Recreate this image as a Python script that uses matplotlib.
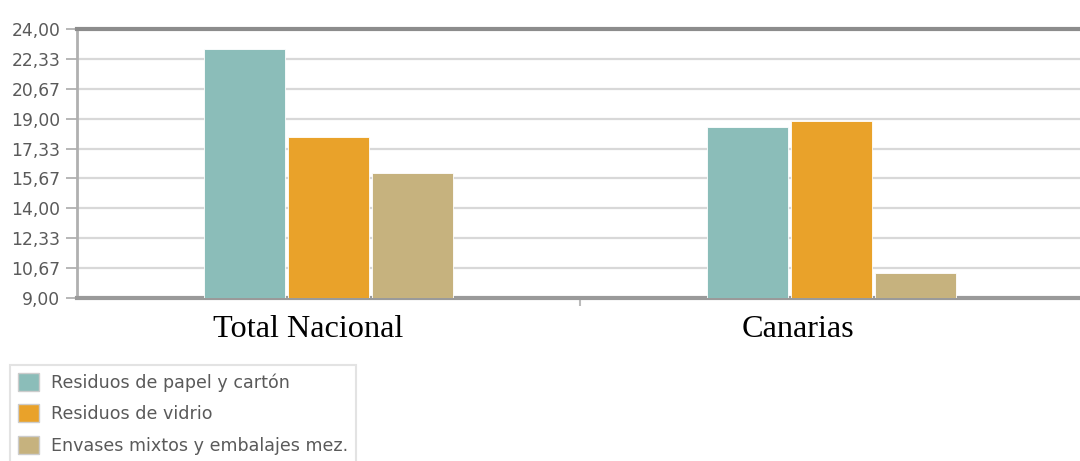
import numpy as np
import matplotlib
matplotlib.use("Agg")
import matplotlib.pyplot as plt
from matplotlib.patches import Patch

# data
regions = ["Total Nacional", "Canarias"]
series = ["Residuos de papel y cartón", "Residuos de vidrio",
          "Envases mixtos y embalajes mez."]
papel = [22.89, 18.54]
vidrio = [17.98, 18.87]
envases = [15.97, 10.39]
colors = ["#8bbdb9", "#e9a22a", "#c6b27e"]

y_ticks = np.linspace(9, 24, 10)
y_labels = [f"{v:.2f}".replace(".", ",") for v in y_ticks]

fig = plt.figure(figsize=(10.8, 4.61), dpi=100)
# axes runs slightly past the right edge like the screenshot
ax = fig.add_axes([77 / 1080, 1 - 298 / 461, 1006 / 1080, 269 / 461])

x = np.arange(len(regions))
width = 0.163
offset = 0.167
for i, (vals, c) in enumerate(zip([papel, vidrio, envases], colors)):
    ax.bar(x + (i - 1) * offset, np.array(vals) - 9, width, bottom=9,
           color=c, edgecolor="white", linewidth=0.6, zorder=3)

ax.set_xlim(-0.5, 1.5)
ax.set_ylim(9, 24)
ax.set_yticks(y_ticks)
ax.set_yticklabels(y_labels, fontsize=12.3, color="#5a5a5a", family="DejaVu Sans")
ax.set_xticks([0.5], minor=True)
ax.set_xticks(x)
ax.set_xticklabels([])
ax.tick_params(axis="x", which="major", length=0)
ax.tick_params(axis="x", which="minor", length=6, color="#bbbbbb", width=1.5)
ax.tick_params(axis="y", length=8, color="#aaaaaa", width=1.2, pad=4)

# category labels sit a little left of the bar groups in the original
label_shift = [-15, -24]  # points
for xi, name, dx in zip(x, regions, label_shift):
    ax.annotate(name, xy=(xi, 0), xycoords=ax.get_xaxis_transform(),
                xytext=(dx, -12), textcoords="offset points",
                ha="center", va="top", fontsize=23.2,
                family="Liberation Serif", color="black")

ax.grid(axis="y", color="#d8d8d8", linewidth=1.6, zorder=0)
ax.set_axisbelow(True)

ax.spines["top"].set_color("#8c8c8c")
ax.spines["top"].set_linewidth(3)
ax.spines["bottom"].set_color("#9a9a9a")
ax.spines["bottom"].set_linewidth(3)
ax.spines["left"].set_color("#b0b0b0")
ax.spines["left"].set_linewidth(2)
ax.spines["right"].set_visible(False)

handles = [Patch(facecolor=c, edgecolor="#cccccc", label=s)
           for c, s in zip(colors, series)]
leg = fig.legend(handles=handles, loc="upper left",
                 bbox_to_anchor=(10 / 1080, 1 - 365 / 461),
                 frameon=True, fancybox=False, edgecolor="#dddddd",
                 handlelength=1.2, handleheight=1.2, handletextpad=0.7,
                 labelspacing=0.72, borderpad=0.45, fontsize=12.6,
                 borderaxespad=0)
for t in leg.get_texts():
    t.set_color("#5a5a5a")
leg.get_frame().set_linewidth(1.5)

fig.savefig("out.png", dpi=100)
